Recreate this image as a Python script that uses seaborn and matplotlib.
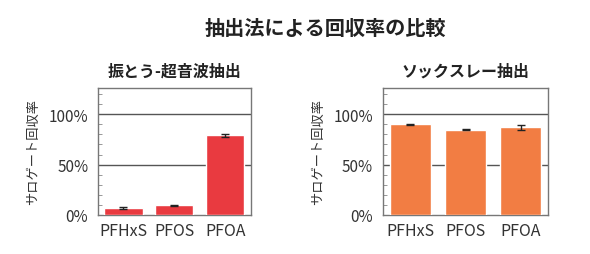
import matplotlib
matplotlib.use("Agg")
import matplotlib.pyplot as plt
import seaborn as sns
import pandas as pd
import numpy as np
from matplotlib.ticker import MultipleLocator, FuncFormatter

sns.set_theme(style="white")
plt.rcParams['font.family'] = ['Noto Sans CJK JP', 'DejaVu Sans']

categories = ["PFHxS", "PFOS", "PFOA"]
shake_values = [7, 9.5, 79]
shake_errors = [0.8, 0.8, 1.8]
soxhlet_values = [90, 84.5, 87]
soxhlet_errors = [0.6, 0.6, 2.2]

main_title = "抽出法による回収率の比較"
titles = ["振とう-超音波抽出", "ソックスレー抽出"]
ylabel = "サロゲート回収率"
colors = ["#E93A40", "#F27D43"]

fig = plt.figure(figsize=(5.9, 2.55), dpi=100)
axes = [fig.add_axes([0.166, 0.153, 0.259, 0.498]),
        fig.add_axes([0.649, 0.153, 0.280, 0.498])]

for ax, vals, errs, title, color in zip(axes, [shake_values, soxhlet_values],
                                        [shake_errors, soxhlet_errors], titles, colors):
    df = pd.DataFrame({"cat": categories, "val": vals})
    sns.barplot(data=df, x="cat", y="val", color=color, saturation=1,
                width=0.75, errorbar=None, ax=ax, zorder=3)
    ax.errorbar(np.arange(len(categories)), vals, yerr=errs, fmt="none",
                ecolor="#222222", elinewidth=1.0, capsize=3, capthick=1.0, zorder=4)
    ax.set_xlim(-0.5, 2.5)
    ax.set_ylim(0, 126)
    ax.yaxis.set_major_locator(MultipleLocator(50))
    ax.yaxis.set_minor_locator(MultipleLocator(10))
    ax.yaxis.set_major_formatter(FuncFormatter(lambda v, p: f"{int(v)}%"))
    for y in [50, 100]:
        ax.axhline(y, color="#555555", lw=1.0, zorder=1)
    ax.tick_params(axis="y", which="minor", direction="in", length=3, width=0.6,
                   color="#888888", left=True)
    ax.tick_params(axis="y", which="major", direction="in", length=0, labelsize=11,
                   labelcolor="#333333", pad=7, left=True)
    ax.tick_params(axis="x", length=0, labelsize=11.5, labelcolor="#333333", pad=5)
    for s in ax.spines.values():
        s.set_color("#777777")
        s.set_linewidth(1.0)
    ax.set_xlabel("")
    ax.set_ylabel(ylabel, fontsize=9.5, color="#333333", labelpad=6)
    ax.set_title(title, fontsize=11.5, fontweight="bold", color="#222222", pad=9)

fig.text(0.552, 0.888, main_title, ha="center", va="center", fontsize=14.5,
         fontweight="bold", color="#222222")

fig.savefig("out.png", dpi=100, facecolor="white")
